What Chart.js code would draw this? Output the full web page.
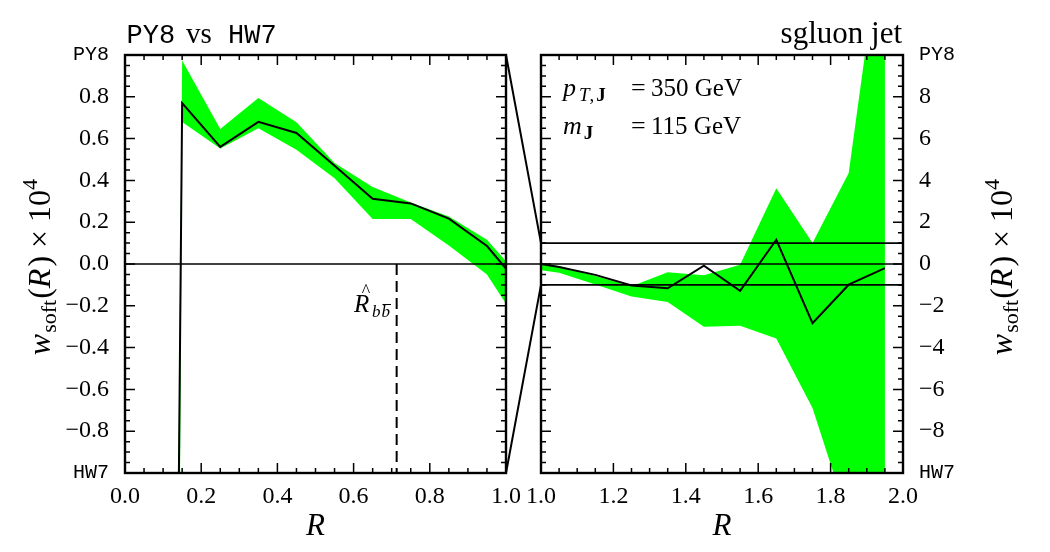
<!DOCTYPE html>
<html><head><meta charset="utf-8">
<script src="https://cdn.jsdelivr.net/npm/chart.js@4.4.1/dist/chart.umd.min.js"></script>
<style>
html,body{margin:0;padding:0;background:#fff;}
#wrap{position:relative;width:1050px;height:552px;background:#fff;overflow:hidden;}
#wrap canvas{position:absolute;left:0;top:0;}
</style></head><body>
<div id="wrap"><canvas id="c1" width="1050" height="552"></canvas><canvas id="c2" width="1050" height="552"></canvas></div>
<script>
// ---------------- data ----------------
const leftR       = [0.05, 0.15, 0.25, 0.35, 0.45, 0.55, 0.65, 0.75, 0.85, 0.95, 1.05];
const leftCentral = [-20, 0.77, 0.56, 0.68, 0.627, 0.47, 0.312, 0.29, 0.217, 0.086, -0.13];
const leftUpper   = [-19, 0.974, 0.646, 0.794, 0.678, 0.483, 0.368, 0.294, 0.227, 0.116, -0.09];
const leftLower   = [-30, 0.68, 0.553, 0.65, 0.547, 0.41, 0.215, 0.215, 0.088, -0.05, -0.33];

const rightR       = [1.0, 1.05, 1.15, 1.25, 1.35, 1.45, 1.55, 1.65, 1.75, 1.85, 1.95];
const rightCentral = [0, -0.14, -0.52, -1.03, -1.16, -0.08, -1.28, 1.16, -2.83, -0.99, -0.2];
const rightUpper   = [0, -0.1, -0.58, -1.06, -0.4, -0.54, -0.03, 3.63, 1.0, 4.35, 17];
const rightLower   = [-0.3, -0.42, -0.98, -1.55, -1.82, -3.0, -2.95, -3.57, -6.89, -12.25, -16];

const leftXTicks  = [0.0, 0.2, 0.4, 0.6, 0.8, 1.0];
const leftXLabels = ['0.0', '0.2', '0.4', '0.6', '0.8', '1.0'];
const rightXTicks  = [1.0, 1.2, 1.4, 1.6, 1.8, 2.0];
const rightXLabels = ['1.0', '1.2', '1.4', '1.6', '1.8', '2.0'];
const leftYTicks  = [-1.0, -0.8, -0.6, -0.4, -0.2, 0.0, 0.2, 0.4, 0.6, 0.8, 1.0];
const leftYLabels = ['HW7', '\u22120.8', '\u22120.6', '\u22120.4', '\u22120.2', '0.0', '0.2', '0.4', '0.6', '0.8', 'PY8'];
const rightYTicks  = [-10, -8, -6, -4, -2, 0, 2, 4, 6, 8, 10];
const rightYLabels = ['HW7', '\u22128', '\u22126', '\u22124', '\u22122', '0', '2', '4', '6', '8', 'PY8'];

const R_bb = 0.713;          // dashed marker position
const zoomLevels = [-1, 1];  // horizontal lines in right panel
const zeroLevel = 0;

// ---------------- style ----------------
const SERIF = "'Liberation Serif','Times New Roman',serif";
const MONO = "'Liberation Mono','DejaVu Sans Mono',monospace";
const GREEN = '#00ff00';

function pts(xs, ys) { return xs.map((x, i) => ({x: x, y: ys[i]})); }
function steps(a, b, s) { const n = Math.round((b - a) / s); const o = []; for (let i = 0; i <= n; i++) o.push(a + i * s); return o; }

function datasets(xs, up, lo, c) {
  return [
    {data: pts(xs, c), borderColor: '#000', borderWidth: 2, pointRadius: 0, fill: false, tension: 0, order: 1},
    {data: pts(xs, up), borderColor: 'rgba(0,0,0,0)', borderWidth: 0, pointRadius: 0, fill: '+1', backgroundColor: GREEN, tension: 0, order: 2},
    {data: pts(xs, lo), borderColor: 'rgba(0,0,0,0)', borderWidth: 0, pointRadius: 0, fill: false, backgroundColor: GREEN, tension: 0, order: 3}
  ];
}

function drawRuns(ctx, x, y, runs, align) {
  let total = 0;
  runs.forEach(r => { ctx.font = r[1]; total += ctx.measureText(r[0]).width + (r[3] || 0); });
  let cx = align === 'center' ? x - total / 2 : (align === 'right' ? x - total : x);
  runs.forEach(r => { ctx.font = r[1]; ctx.fillText(r[0], cx, y + (r[2] || 0)); cx += ctx.measureText(r[0]).width + (r[3] || 0); });
  return cx;
}

function yTitle(ctx, x, y) {
  ctx.save();
  ctx.translate(x, y);
  ctx.rotate(-Math.PI / 2);
  ctx.fillStyle = '#000';
  ctx.textBaseline = 'alphabetic';
  drawRuns(ctx, 0, 0, [
    ['w', 'italic 32px ' + SERIF, 0, 1],
    ['soft', '22px ' + SERIF, 6, 1],
    ['(', '32px ' + SERIF],
    ['R', 'italic 32px ' + SERIF, 0, 2],
    [')', '32px ' + SERIF],
    [' \u00d7 ', '32px ' + SERIF],
    ['10', '32px ' + SERIF],
    ['4', '22px ' + SERIF, -13]
  ], 'center');
  ctx.restore();
}

const frameTicks = {
  id: 'frameTicks',
  afterDraw(chart, args, o) {
    const ctx = chart.ctx, a = chart.chartArea, xs = chart.scales.x, ys = chart.scales.y;
    ctx.save();
    ctx.strokeStyle = '#000';
    ctx.lineWidth = 1.5;
    ctx.beginPath();
    const seg = (x1, y1, x2, y2) => { ctx.moveTo(x1, y1); ctx.lineTo(x2, y2); };
    const xT = (vals, len) => vals.forEach(v => { const p = xs.getPixelForValue(v); seg(p, a.bottom, p, a.bottom - len); seg(p, a.top, p, a.top + len); });
    const yT = (vals, len) => vals.forEach(v => { const p = ys.getPixelForValue(v); seg(a.left, p, a.left + len, p); seg(a.right, p, a.right - len, p); });
    xT(steps(xs.min, xs.max, o.xMinor), 5);
    xT(steps(xs.min, xs.max, o.xMajor), 10);
    yT(steps(ys.min, ys.max, o.yMinor), 5);
    yT(steps(ys.min, ys.max, o.yMajor), 10);
    ctx.stroke();
    ctx.lineWidth = 2.4;
    ctx.strokeRect(a.left, a.top, a.right - a.left, a.bottom - a.top);
    ctx.restore();
  }
};

const decor = {
  id: 'decor',
  afterDatasetsDraw(chart, args, o) { if (o.lines) o.lines(chart); },
  afterDraw(chart, args, o) { if (o.text) o.text(chart); }
};

function tickFont(ctx) {
  const lbl = ctx.tick && ctx.tick.label;
  if (lbl === 'PY8' || lbl === 'HW7') return {family: MONO, size: 20};
  return {family: SERIF, size: 24};
}

function makeOptions(c) {
  return {
    responsive: false, animation: false, devicePixelRatio: 1,
    layout: {padding: c.padding},
    plugins: {legend: {display: false}, tooltip: {enabled: false}, title: {display: false},
      frameTicks: c.frame, decor: c.decor},
    scales: {
      x: {type: 'linear', min: c.xTicks[0], max: c.xTicks[c.xTicks.length - 1],
        grid: {display: false}, border: {display: false},
        afterBuildTicks: s => { s.ticks = c.xTicks.map(v => ({value: v})); },
        afterFit: s => { s.height = 79; },
        ticks: {autoSkip: false, maxRotation: 0, minRotation: 0, padding: 1, color: '#000',
          font: {family: SERIF, size: 24}, callback: (v, i) => c.xLabels[i]}},
      y: {type: 'linear', position: c.yPos, min: c.yTicks[0], max: c.yTicks[c.yTicks.length - 1],
        grid: {display: false}, border: {display: false},
        afterBuildTicks: s => { s.ticks = c.yTicks.map(v => ({value: v})); },
        afterFit: s => { s.width = c.yWidth; },
        ticks: {autoSkip: false, padding: 8, color: '#000', font: tickFont, callback: (v, i) => c.yLabels[i]}}
    }
  };
}

// ---------------- left panel ----------------
const leftChart = new Chart(document.getElementById('c1'), {
  type: 'line',
  data: {datasets: datasets(leftR, leftUpper, leftLower, leftCentral)},
  plugins: [frameTicks, decor],
  options: makeOptions({
    padding: {left: 0, top: 55, right: 544, bottom: 0},
    xTicks: leftXTicks, xLabels: leftXLabels, yTicks: leftYTicks, yLabels: leftYLabels,
    yPos: 'left', yWidth: 125,
    frame: {xMajor: 0.2, xMinor: 0.05, yMajor: 0.2, yMinor: 0.05},
    decor: {
      lines: chart => {
        const ctx = chart.ctx, a = chart.chartArea, xs = chart.scales.x, ys = chart.scales.y;
        ctx.save();
        ctx.strokeStyle = '#000';
        ctx.lineWidth = 1.6;
        const y0 = ys.getPixelForValue(zeroLevel);
        ctx.beginPath(); ctx.moveTo(a.left, y0); ctx.lineTo(a.right, y0); ctx.stroke();
        ctx.lineWidth = 2;
        ctx.setLineDash([11, 6]);
        const xb = xs.getPixelForValue(R_bb);
        ctx.beginPath(); ctx.moveTo(xb, y0); ctx.lineTo(xb, ys.getPixelForValue(-1)); ctx.stroke();
        ctx.restore();
      },
      text: chart => {
        const ctx = chart.ctx, a = chart.chartArea;
        ctx.save();
        ctx.fillStyle = '#000';
        ctx.textBaseline = 'alphabetic';
        // title
        ctx.font = '27px ' + MONO; ctx.fillText('PY8', 126.5, 43);
        ctx.font = '29px ' + SERIF; ctx.fillText('vs', 186, 43);
        ctx.font = '27px ' + MONO; ctx.fillText('HW7', 228, 43);
        // R-hat label
        ctx.font = 'italic 25px ' + SERIF; ctx.fillText('R', 354, 312);
        ctx.font = '18px ' + SERIF; ctx.textAlign = 'center'; ctx.fillText('^', 366, 297); ctx.textAlign = 'left';
        ctx.font = 'italic 17px ' + SERIF;
        ctx.fillText('b', 372, 317);
        const wb = ctx.measureText('b').width;
        ctx.fillText('b', 373 + wb, 317);
        ctx.lineWidth = 1; ctx.strokeStyle = '#000';
        ctx.beginPath(); ctx.moveTo(374 + wb, 304.5); ctx.lineTo(374 + 2 * wb, 304.5); ctx.stroke();
        // axis titles
        yTitle(ctx, 50, 267);
        ctx.font = 'italic 31px ' + SERIF; ctx.textAlign = 'center';
        ctx.fillText('R', (a.left + a.right) / 2, 535);
        ctx.restore();
      }
    }
  })
});

// ---------------- right panel ----------------
const rightChart = new Chart(document.getElementById('c2'), {
  type: 'line',
  data: {datasets: datasets(rightR, rightUpper, rightLower, rightCentral)},
  plugins: [frameTicks, decor],
  options: makeOptions({
    padding: {left: 541, top: 55, right: 0, bottom: 0},
    xTicks: rightXTicks, xLabels: rightXLabels, yTicks: rightYTicks, yLabels: rightYLabels,
    yPos: 'right', yWidth: 147,
    frame: {xMajor: 0.2, xMinor: 0.05, yMajor: 2, yMinor: 0.5},
    decor: {
      lines: chart => {
        const ctx = chart.ctx, a = chart.chartArea, xs = chart.scales.x, ys = chart.scales.y;
        const lx = leftChart.scales.x, ly = leftChart.scales.y;
        ctx.save();
        ctx.strokeStyle = '#000';
        ctx.lineWidth = 1.6;
        ctx.beginPath();
        zoomLevels.concat([zeroLevel]).forEach(v => {
          const p = ys.getPixelForValue(v);
          ctx.moveTo(a.left, p); ctx.lineTo(a.right, p);
        });
        // zero line through the gap
        const y0 = ly.getPixelForValue(zeroLevel);
        ctx.moveTo(lx.getPixelForValue(lx.max), y0); ctx.lineTo(a.left, y0);
        ctx.stroke();
        // connectors
        ctx.lineWidth = 2;
        ctx.beginPath();
        ctx.moveTo(lx.getPixelForValue(lx.max), ly.getPixelForValue(ly.max));
        ctx.lineTo(xs.getPixelForValue(xs.min), ys.getPixelForValue(zoomLevels[1]));
        ctx.moveTo(lx.getPixelForValue(lx.max), ly.getPixelForValue(ly.min));
        ctx.lineTo(xs.getPixelForValue(xs.min), ys.getPixelForValue(zoomLevels[0]));
        ctx.stroke();
        ctx.restore();
      },
      text: chart => {
        const ctx = chart.ctx, a = chart.chartArea;
        ctx.save();
        ctx.fillStyle = '#000';
        ctx.textBaseline = 'alphabetic';
        ctx.font = '31px ' + SERIF; ctx.textAlign = 'right';
        ctx.fillText('sgluon jet', 902, 43);
        ctx.textAlign = 'left';
        // text box
        drawRuns(ctx, 563, 96, [
          ['p', 'italic 26px ' + SERIF, 0, 3],
          ['T', 'italic 19px ' + SERIF, 5],
          [',', '19px ' + SERIF, 5, 2],
          ['J', 'bold 19px ' + SERIF, 5]
        ], 'left');
        drawRuns(ctx, 563, 134, [
          ['m', 'italic 26px ' + SERIF, 0, 2],
          ['J', 'bold 19px ' + SERIF, 5]
        ], 'left');
        ctx.font = '26px ' + SERIF;
        ctx.fillText('=', 631, 96); ctx.fillText('=', 631, 134);
        ctx.font = '25px ' + SERIF;
        ctx.fillText('350 GeV', 651, 96);
        ctx.fillText('115 GeV', 651, 134);
        yTitle(ctx, 1012, 267);
        ctx.font = 'italic 31px ' + SERIF; ctx.textAlign = 'center';
        ctx.fillText('R', (a.left + a.right) / 2, 535);
        ctx.restore();
      }
    }
  })
});
</script>
</body></html>
